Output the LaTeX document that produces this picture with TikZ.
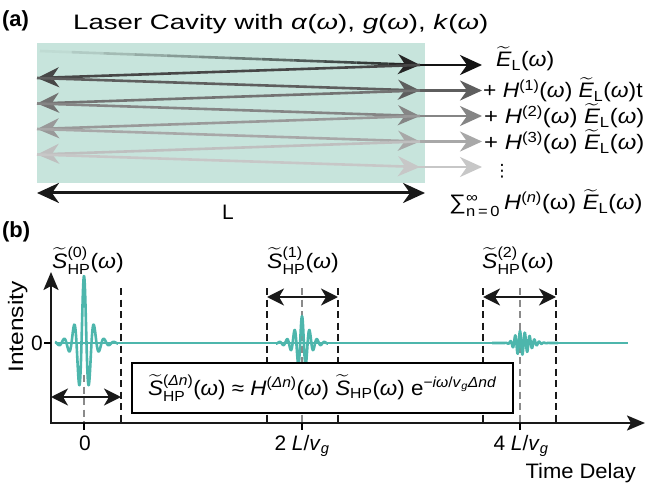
\documentclass[tikz,border=0pt]{standalone}
\usepackage{amsmath}
\usepackage{fontspec}
\setmainfont{Liberation Sans}
\newfontfamily\symfont{DejaVu Sans}
\usetikzlibrary{arrows.meta,calc}
\definecolor{colCavity}{HTML}{C7E4DC}
\definecolor{colSignal}{HTML}{4DB6AC}
\definecolor{colGuide}{HTML}{8A8A8A}
\tikzset{
  lbl/.style={font=\fontsize{21}{24}\selectfont, inner sep=0pt},
  panel/.style={font=\fontsize{22}{26}\selectfont\bfseries, inner sep=0pt},
  rayline/.style={line width=2.6bp},
  ray/.style={rayline, -{Stealth[length=22bp,width=20bp,inset=7bp]}},
  lenarr/.style={line width=3bp, draw=black!90,
    {Stealth[length=22bp,width=20bp,inset=7bp]}-{Stealth[length=22bp,width=20bp,inset=7bp]}},
  dblarr/.style={line width=2.4bp, draw=black!90,
    {Stealth[length=17bp,width=17bp,inset=5bp]}-{Stealth[length=17bp,width=17bp,inset=5bp]}},
  axisarr/.style={line width=2.4bp, draw=black!90,
    {Stealth[length=18bp,width=15bp,inset=4bp]}-{Stealth[length=18bp,width=15bp,inset=4bp]}},
  guide/.style={line width=2.2bp, dash pattern=on 7bp off 4.5bp},
  signal/.style={line width=2.6bp, draw=colSignal, line join=round}
}
\newcommand{\wtl}[1]{\ensuremath{\widetilde{\mbox{\itshape #1}}}}
\newcommand{\om}{\textit{ω}}
\newcommand{\supx}[1]{\ensuremath{^{\text{#1}}}}
\newcommand{\subx}[1]{\ensuremath{_{\text{#1}}}}
\newcommand{\supsub}[2]{\ensuremath{^{\text{#1}}_{\text{#2}}}}
\newcommand{\wide}[2]{\scalebox{#1}[1]{#2}}

\begin{document}
\begin{tikzpicture}[x=1bp, y=-1bp]
  \useasboundingbox (0,0) rectangle (646,483);

  % (a) cavity
  \node[panel, anchor=base west] (pa) at (2,27) {(a)};
  \node[lbl, anchor=base west] (title) at (73,30) {\wide{1.32}{Laser Cavity with \textit{α}(\om), \textit{g}(\om), \textit{k}(\om)}};
  \fill[colCavity] (37,43) rectangle (425,183);

  \coordinate (s) at (40,51);
  \foreach \k in {0,...,4} {
    \coordinate (r\k) at (420,{65+25.5*\k});
    \coordinate (o\k) at (482,{65+25.5*\k});
  }
  \foreach \k in {0,...,3}
    \coordinate (l\k) at (37,{78+25.5*\k});

  % outgoing parts
  \foreach \k/\p in {0/92,1/63,2/48,3/34,4/22}
    \draw[ray, draw=black!\p] ($(r\k)+(-10,0)$) -- (o\k);

  % first pass, fading in
  \foreach \i in {0,...,10} {
    \pgfmathsetmacro\p{4+7*\i}
    \draw[rayline, draw=black!\p!colCavity] ($(s)!\i/12!(r0)$) -- ($(s)!\i/12+1/12!(r0)$);
  }
  \draw[ray, draw=black!85] ($(s)!11/12!(r0)$) -- (r0);

  % round trips
  \foreach \k/\pa/\pb in {0/72/63,1/55/48,2/40/34,3/25/22} {
    \pgfmathtruncatemacro\n{\k+1}
    \draw[ray, draw=black!\pa] (r\k) -- (l\k);
    \draw[ray, draw=black!\pb] (l\k) -- (r\n);
  }

  \coordinate (lenL) at (37,193);
  \coordinate (lenR) at (425,193);
  \draw[lenarr] (lenL) -- (lenR);
  \node[lbl] (lenlbl) at (228,212) {L};

  \node[lbl, anchor=base west] (out0) at (496,67) {\wide{1.1}{\wtl{E}\subx{L}(\om)}};
  \node[lbl, anchor=base west] (out1) at (483,98) {\wide{1.09}{+ \textit{H}\supx{(1)}(\om) \wtl{E}\subx{L}(\om)t}};
  \node[lbl, anchor=base west] (out2) at (484,124) {\wide{1.14}{+ \textit{H}\supx{(2)}(\om) \wtl{E}\subx{L}(\om)}};
  \node[lbl, anchor=base west] (out3) at (484,150) {\wide{1.14}{+ \textit{H}\supx{(3)}(\om) \wtl{E}\subx{L}(\om)}};
  \node[lbl, font=\fontsize{17}{18}\selectfont\symfont] (outdots) at (502,171) {⋮};
  \node[lbl, anchor=base west] (outsum) at (449,210) {\wide{1.13}{∑\supsub{∞}{n\,=\,0}\,\textit{H}\supx{(\textit{n})}(ω) \wtl{E}\subx{L}(\om)}};

  % (b) time trace
  \node[panel, anchor=base west] (pb) at (2,238) {(b)};

  \foreach \xg/\ytop in {84/375,302/288,520/288}
    \draw[guide, draw=colGuide] (\xg,\ytop) -- (\xg,423);
  \foreach \xg in {121,267,338,483,556}
    \draw[guide, draw=black!90] (\xg,288) -- (\xg,423);

  \draw[signal] (55,343) -- (628,343);
  \draw[signal] plot[domain=-29:34, samples=260]
    ({84+\x},{343-67/(1+(\x/6.5)^2)*exp(-(\x/30)^2)*cos(36*\x)});
  \draw[signal] plot[domain=-26:26, samples=210]
    ({302+\x},{343-27/(1+(\x/8)^2)*exp(-(\x/22)^2)*cos(48*\x)});
  \draw[signal] plot[domain=-28:38, samples=270]
    ({520+\x},{343-12*exp(-(\x/ifthenelse(\x<0,7,13))^2)*cos(75*\x)});

  \coordinate (origin) at (51,423);
  \coordinate (ytip) at (51,272);
  \coordinate (xtip) at (645,423);
  \draw[axisarr] (ytip) -- (origin) -- (xtip);
  \draw[line width=2bp] (44,343) -- (51,343);
  \foreach \xt in {84,302,520}
    \draw[line width=2bp] (\xt,423) -- (\xt,430);

  \node[lbl, anchor=east] (zero) at (43,343) {0};
  \node[lbl, rotate=90, anchor=base] (ylab) at (23,327) {\wide{1.17}{Intensity}};
  \node[lbl, anchor=base] (t0) at (85,450) {0};
  \node[lbl, anchor=base] (t1) at (302,450) {2 \textit{L}/\textit{v}\subx{\textit{g}}};
  \node[lbl, anchor=base] (t2) at (521,450) {4 \textit{L}/\textit{v}\subx{\textit{g}}};
  \node[lbl, anchor=base east] (xlab) at (636,478) {\wide{1.05}{Time Delay}};

  \coordinate (w0L) at (51,397);  \coordinate (w0R) at (121,397);
  \coordinate (w1L) at (267,297); \coordinate (w1R) at (338,297);
  \coordinate (w2L) at (483,297); \coordinate (w2R) at (556,297);
  \draw[dblarr] (w0L) -- (w0R);
  \draw[dblarr] (w1L) -- (w1R);
  \draw[dblarr] (w2L) -- (w2R);

  \node[lbl, anchor=base] (s0) at (88,268) {\wide{1.1}{\wtl{S}\supsub{(0)}{HP}(\om)}};
  \node[lbl, anchor=base] (s1) at (303,268) {\wide{1.1}{\wtl{S}\supsub{(1)}{HP}(\om)}};
  \node[lbl, anchor=base] (s2) at (518,268) {\wide{1.1}{\wtl{S}\supsub{(2)}{HP}(\om)}};

  \node[lbl, draw, fill=white, line width=1.4bp, minimum width=381bp, minimum height=50bp]
    (eqbox) at (322.5,388) {\wide{1.07}{\wtl{S}\supsub{(\textit{Δn})}{HP}(\om) ≈ \textit{H}\supx{(\textit{Δn})}(\om) \wtl{S}\subx{HP}(\om) e\supx{−\textit{iω}/\textit{v}\subx{\textit{g}}\textit{Δnd}}}};
\end{tikzpicture}
\end{document}
